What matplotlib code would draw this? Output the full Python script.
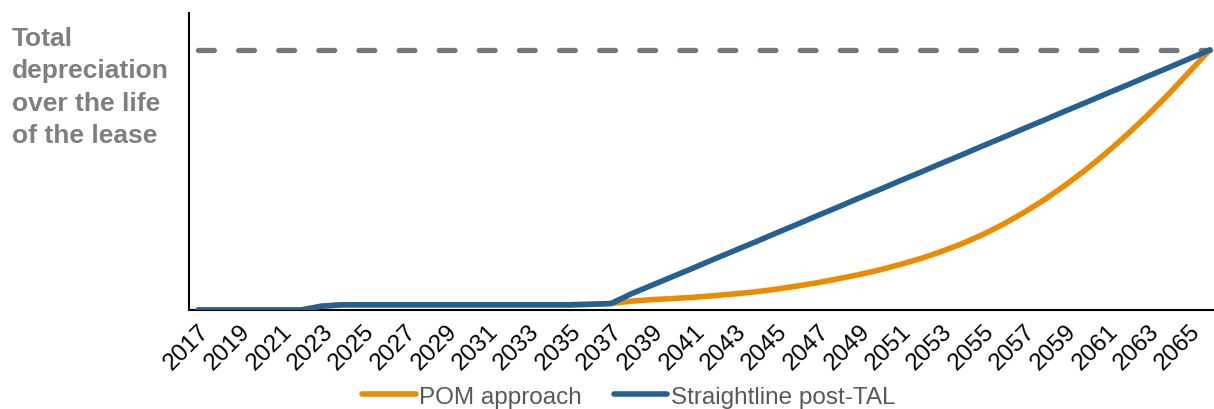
import matplotlib
matplotlib.use("Agg")
import matplotlib.pyplot as plt

# --- data (% of total depreciation) ---
years = list(range(2017, 2067))

pom_approach = [
    0, 0, 0, 0, 0, 0,                      # 2017-2022
    1.5,                                   # 2023
    2.0, 2.0, 2.0, 2.0, 2.0, 2.0,          # 2024-2029
    2.0, 2.0, 2.0, 2.0, 2.0, 2.0,          # 2030-2035
    2.2, 2.5,                              # 2036-2037
    3.4, 4.0, 4.4, 4.9, 5.5, 6.2, 7.0,     # 2038-2044
    8.0, 9.2, 10.5, 12.0, 13.6, 15.4,      # 2045-2050
    17.5, 19.8, 22.5, 25.5, 29.0, 33.0,    # 2051-2056
    37.5, 42.5, 48.0, 54.0, 60.5, 67.5,    # 2057-2062
    75.0, 83.0, 91.5, 100.0,               # 2063-2066
]

straightline_post_tal = [
    0, 0, 0, 0, 0, 0,                      # 2017-2022
    1.5,                                   # 2023
    2.0, 2.0, 2.0, 2.0, 2.0, 2.0,          # 2024-2029
    2.0, 2.0, 2.0, 2.0, 2.0, 2.0,          # 2030-2035
    2.2, 2.5,                              # 2036-2037
    6.3, 9.6, 12.9, 16.2, 19.6, 22.9,      # 2038-2043
    26.2, 29.6, 32.9, 36.3, 39.6, 43.0,    # 2044-2049
    46.3, 49.7, 53.0, 56.4, 59.7, 63.1,    # 2050-2055
    66.4, 69.8, 73.1, 76.5, 79.8, 83.2,    # 2056-2061
    86.5, 89.9, 93.2, 96.6, 100.0,         # 2062-2066
]

total_depreciation = [100.0] * len(years)

tick_years = list(range(2017, 2067, 2))

# --- style ---
ORANGE = "#ED8B00"
BLUE = "#236192"
DASH_GREY = "#75787B"
TEXT_GREY = "#7F7F7F"
LEGEND_GREY = "#595959"

plt.rcParams["font.family"] = ["Liberation Sans", "DejaVu Sans"]

fig = plt.figure(figsize=(12.14, 4.10), dpi=100)
ax = fig.add_axes([189 / 1214, 99 / 410, 1025 / 1214, 297 / 410])

ax.plot(years, total_depreciation, color=DASH_GREY, linewidth=3.8,
        dashes=(3.0, 4.6), dash_capstyle="round", zorder=1)
ax.plot(years, pom_approach, color=ORANGE, linewidth=4.0,
        solid_capstyle="round", solid_joinstyle="round",
        label="POM approach", zorder=2)
ax.plot(years, straightline_post_tal, color=BLUE, linewidth=4.0,
        solid_capstyle="round", solid_joinstyle="round",
        label="Straightline post-TAL", zorder=3)

ax.set_xlim(2016.56, 2066.2)
ax.set_ylim(0, 114.2)

ax.set_xticks(tick_years)
ax.set_xticklabels([str(y) for y in tick_years], rotation=45, ha="right",
                   rotation_mode="anchor", fontsize=17.5, color="black")
ax.tick_params(axis="x", length=0, pad=7)
ax.set_yticks([])

for side in ("top", "right"):
    ax.spines[side].set_visible(False)
for side in ("left", "bottom"):
    ax.spines[side].set_linewidth(1.5)
    ax.spines[side].set_color("black")

fig.text(0.010, 0.935, "Total\ndepreciation\nover the life\nof the lease",
         ha="left", va="top", fontsize=19, fontweight="bold",
         color=TEXT_GREY, linespacing=1.45)

leg = fig.legend(loc="center", bbox_to_anchor=(0.518, 0.03), ncol=2,
                 frameon=False, fontsize=17.5, handlelength=2.2,
                 handletextpad=0.15, columnspacing=1.3, borderaxespad=0)
for txt in leg.get_texts():
    txt.set_color(LEGEND_GREY)

fig.savefig("out.png", dpi=100)
